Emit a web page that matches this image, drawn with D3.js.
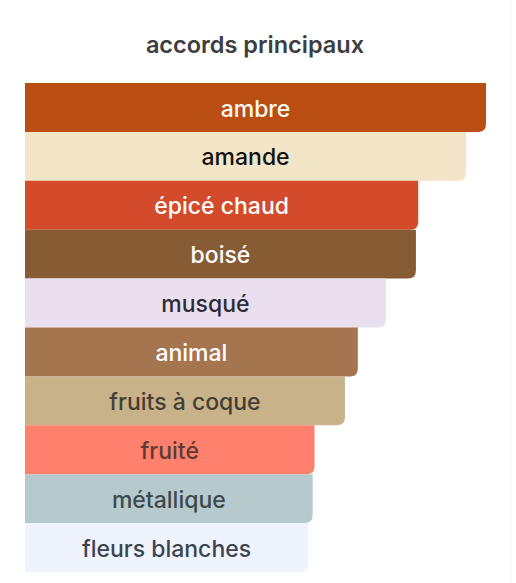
<!DOCTYPE html>
<html>
<head>
<meta charset="utf-8">
<script src="https://cdn.jsdelivr.net/npm/d3@7"></script>
<style>
  body { margin: 0; background: #fff; }
  svg { display: block; font-family: Inter, "Noto Sans", sans-serif; }
</style>
</head>
<body>
<div id="chart-area"></div>
<script>
// accords, dans l'ordre du plus fort au plus faible
var accords = ["ambre", "amande", "épicé chaud", "boisé", "musqué", "animal",
    "fruits à coque", "fruité", "métallique", "fleurs blanches"];
var valeurs = [100, 95.7, 85.3, 84.8, 78.3, 72.2, 69.4, 62.8, 62.4, 61.4];
var couleurs = ["#ba4e12", "#f2e5c8", "#d44b2b", "#875b34", "#e9dfee", "#a57550",
    "#c8b28a", "#ff806c", "#b6c9cc", "#eff3fd"];
var couleursTexte = ["#fffaf2", "#111111", "#ffffff", "#ffffff", "#2e2a36", "#ffffff",
    "#463e34", "#5b3b34", "#3d4a4d", "#3d4450"];

var W = 516, H = 583;
var svg = d3.select("#chart-area")
    .append("svg")
    .attr("width", W)
    .attr("height", H);

// bord tres pale a droite du cadre
svg.append("line")
    .attr("x1", 511.5).attr("x2", 511.5)
    .attr("y1", 0).attr("y2", H)
    .attr("stroke", "#f7f7f7");

svg.append("text")
    .attr("x", 255)
    .attr("y", 53)
    .attr("text-anchor", "middle")
    .attr("font-size", 23.5)
    .attr("font-weight", 600)
    .attr("fill", "#3d3e42")
    .text("accords principaux");

var left = 25;
var x = d3.scaleLinear().domain([0, 100]).range([0, 461]);
var y = d3.scaleBand().domain(accords).range([83, 572]).padding(0);

// barre avec seulement le coin bas-droit arrondi
function barPath(w, h, r) {
    return "M0,0H" + w + "V" + (h - r) +
        "Q" + w + "," + h + " " + (w - r) + "," + h +
        "H0Z";
}

var data = accords.map(function (a, i) {
    return { nom: a, v: valeurs[i], c: couleurs[i], t: couleursTexte[i] };
});

var g = svg.selectAll("g.bar")
    .data(data)
    .enter()
    .append("g")
    .attr("class", "bar")
    .attr("transform", function (d) { return "translate(" + left + "," + y(d.nom) + ")"; });

g.append("path")
    .attr("d", function (d) { return barPath(x(d.v), y.bandwidth(), 8); })
    .attr("fill", function (d) { return d.c; });

g.append("text")
    .attr("x", function (d) { return x(d.v) / 2; })
    .attr("y", 33.5)
    .attr("text-anchor", "middle")
    .attr("font-size", 23)
    .attr("font-weight", 500)
    .attr("fill", function (d) { return d.t; })
    .text(function (d) { return d.nom; });
</script>
</body>
</html>
